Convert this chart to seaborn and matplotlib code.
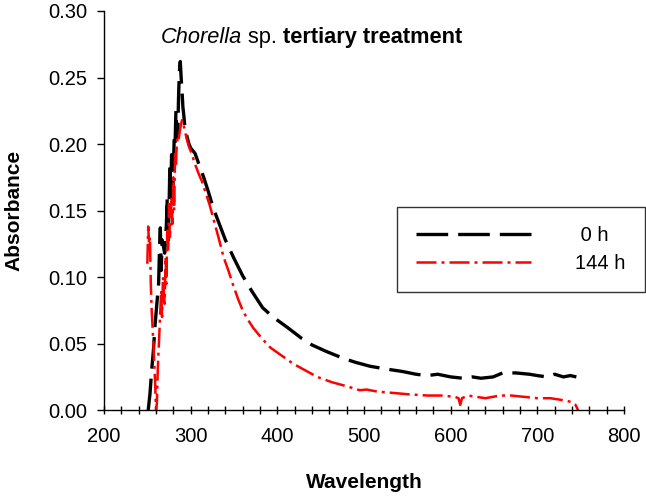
import numpy as np
import pandas as pd
import matplotlib
matplotlib.use('Agg')
import matplotlib.pyplot as plt
from matplotlib.ticker import MultipleLocator
import seaborn as sns

sns.set_style('ticks')
plt.rcParams['font.family'] = ['Liberation Sans', 'DejaVu Sans']
plt.rcParams['text.color'] = 'black'
plt.rcParams['axes.labelcolor'] = 'black'

# -------------------------------------------
# data
# -------------------------------------------
wl_0h = [251, 253, 255, 257, 259, 261, 263, 264, 265, 266, 267, 268, 270, 272,
         273, 274, 275, 276, 277, 278, 279, 280, 281, 282, 283, 284, 285, 286,
         287, 288, 289, 290, 291, 292, 293, 294, 296, 298, 300, 305, 310, 315,
         320, 326, 333, 340, 350, 360, 370, 383, 395, 412, 428, 440, 457, 476,
         490, 507, 525, 545, 560, 573, 585, 600, 614, 625, 635, 649, 660, 675,
         691, 700, 711, 720, 730, 738, 745]
abs_0h = [0.000, 0.012, 0.030, 0.045, 0.065, 0.080, 0.095, 0.120, 0.137, 0.105,
          0.128, 0.125, 0.118, 0.140, 0.160, 0.125, 0.150, 0.185, 0.165, 0.192,
          0.160, 0.178, 0.205, 0.200, 0.225, 0.210, 0.205, 0.235, 0.255, 0.262,
          0.250, 0.240, 0.228, 0.222, 0.215, 0.210, 0.205, 0.200, 0.197, 0.193,
          0.184, 0.175, 0.165, 0.152, 0.140, 0.128, 0.114, 0.101, 0.090, 0.077,
          0.070, 0.062, 0.054, 0.049, 0.044, 0.039, 0.036, 0.033, 0.031, 0.029,
          0.027, 0.026, 0.027, 0.025, 0.024, 0.025, 0.024, 0.025, 0.028, 0.028,
          0.027, 0.026, 0.025, 0.027, 0.025, 0.026, 0.025]

wl_144h = [250, 251, 252, 253, 254, 255, 257, 259, 260, 261, 262, 264, 266, 267,
           268, 270, 271, 272, 273, 274, 275, 276, 278, 279, 280, 281, 282, 283,
           284, 285, 286, 288, 290, 292, 295, 298, 301, 305, 309, 313, 317, 322,
           327, 332, 338, 344, 349, 355, 360, 366, 372, 382, 392, 405, 418, 432,
           446, 463, 480, 495, 503, 515, 533, 550, 573, 590, 605, 609, 611, 613,
           620, 630, 640, 657, 670, 685, 700, 715, 725, 734, 740, 744, 747]
abs_144h = [0.110, 0.138, 0.125, 0.130, 0.095, 0.075, 0.050, 0.020, 0.000, 0.005,
            0.030, 0.060, 0.090, 0.070, 0.100, 0.080, 0.115, 0.095, 0.135, 0.120,
            0.155, 0.130, 0.160, 0.140, 0.175, 0.150, 0.195, 0.185, 0.200, 0.205,
            0.203, 0.212, 0.218, 0.214, 0.205, 0.198, 0.193, 0.185, 0.178, 0.172,
            0.164, 0.154, 0.142, 0.130, 0.115, 0.104, 0.094, 0.083, 0.075, 0.068,
            0.062, 0.054, 0.047, 0.041, 0.035, 0.030, 0.025, 0.021, 0.018, 0.015,
            0.0155, 0.014, 0.013, 0.012, 0.011, 0.011, 0.010, 0.009, 0.004, 0.009,
            0.011, 0.010, 0.009, 0.011, 0.011, 0.010, 0.009, 0.009, 0.008, 0.007,
            0.006, 0.004, 0.000]

fig = plt.figure(figsize=(6.46, 4.99), dpi=100)
ax = fig.add_axes([0.161, 0.178, 0.805, 0.800])

sns.lineplot(x=wl_0h, y=abs_0h, ax=ax, color='black', linewidth=2.4,
             sort=False, estimator=None, label=' 0 h')
sns.lineplot(x=wl_144h, y=abs_144h, ax=ax, color='#ff0000', linewidth=1.8,
             sort=False, estimator=None, label='144 h')
ax.lines[0].set_dashes((9.5, 3))
ax.lines[1].set_dashes((8, 2, 1.2, 2))

ax.set_xlim(200, 800)
ax.set_ylim(0, 0.30)
ax.xaxis.set_major_locator(MultipleLocator(100))
ax.xaxis.set_minor_locator(MultipleLocator(20))
ax.yaxis.set_major_locator(MultipleLocator(0.05))
ax.yaxis.set_major_formatter(plt.FormatStrFormatter('%.2f'))

sns.despine(ax=ax)
for sp in ['left', 'bottom']:
    ax.spines[sp].set_color('black')
    ax.spines[sp].set_linewidth(1.0)
ax.tick_params(axis='x', which='both', direction='inout', length=6, width=1.0,
               labelsize=14.5, pad=9, colors='black')
ax.tick_params(axis='y', which='major', direction='out', length=5, width=1.0,
               labelsize=14.5, pad=7, colors='black')

ax.set_xlabel('Wavelength', fontsize=15, fontweight='bold')
ax.set_ylabel('Absorbance', fontsize=15, fontweight='bold')
ax.xaxis.set_label_coords(0.5, -0.180)
ax.xaxis.label.set_va('center')
ax.yaxis.set_label_coords(-0.173, 0.5)
ax.yaxis.label.set_va('center')

# title built from three pieces: italic / normal / bold
t1 = ax.text(266, 0.2797, 'Chorella', fontsize=15.7, style='italic', va='center')
t2 = ax.annotate(' sp. ', xy=(1, 0.5), xycoords=t1, fontsize=15.7, va='center')
t3 = ax.annotate('tertiary treatment', xy=(1, 0.5), xycoords=t2, fontsize=15.7,
                 fontweight='bold', va='center')

leg = ax.legend(loc='upper left', bbox_to_anchor=(397 / 646, 1 - 207 / 499),
                bbox_transform=fig.transFigure, fontsize=14.5, frameon=True,
                fancybox=False, shadow=False, handlelength=5.7,
                handletextpad=2.2, labelspacing=0.45, borderpad=0.95,
                borderaxespad=0)
leg.get_frame().set_edgecolor('#333333')
leg.get_frame().set_linewidth(1.0)
leg.get_frame().set_alpha(1)

fig.savefig('out.png', dpi=100)
